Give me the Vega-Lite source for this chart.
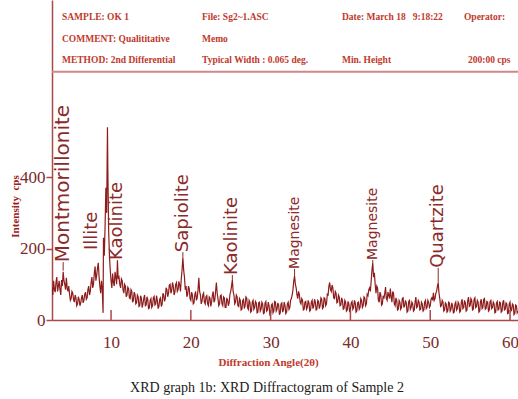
{
"$schema":"https://vega.github.io/schema/vega-lite/v6.json",
"width":466,"height":320,
"autosize":{"type":"none"},
"padding":{"left":52,"top":0,"right":0,"bottom":79},
"background":"white",
"config":{"view":{"stroke":null}},
"title":{"text":"XRD graph 1b: XRD Diffractogram of Sample 2","orient":"bottom","anchor":"middle","font":"Liberation Serif","fontSize":14,"fontWeight":"normal","color":"#1a1a1a","offset":14,"dx":-18},
"datasets":{
"xrd":[
{"t":2.6,"i":90},{"t":2.7,"i":70},{"t":2.8,"i":110},{"t":2.9,"i":85},{"t":3.0,"i":78},{"t":3.1,"i":105},{"t":3.2,"i":120},{"t":3.3,"i":80},{"t":3.4,"i":95},{"t":3.5,"i":110},{"t":3.6,"i":85},{"t":3.7,"i":70},{"t":3.8,"i":112},{"t":3.9,"i":95},{"t":4.0,"i":135},{"t":4.1,"i":110},{"t":4.2,"i":100},{"t":4.3,"i":85},{"t":4.4,"i":118},{"t":4.5,"i":90},{"t":4.6,"i":80},{"t":4.7,"i":95},{"t":4.8,"i":72},{"t":4.9,"i":55},{"t":5.0,"i":60},{"t":5.1,"i":80},{"t":5.2,"i":75},{"t":5.3,"i":58},{"t":5.4,"i":50},{"t":5.5,"i":70},{"t":5.6,"i":62},{"t":5.7,"i":40},{"t":5.8,"i":45},{"t":5.9,"i":65},{"t":6.0,"i":58},{"t":6.1,"i":40},{"t":6.2,"i":48},{"t":6.3,"i":62},{"t":6.4,"i":70},{"t":6.5,"i":48},{"t":6.6,"i":55},{"t":6.7,"i":72},{"t":6.8,"i":78},{"t":6.9,"i":58},{"t":7.0,"i":62},{"t":7.1,"i":85},{"t":7.2,"i":95},{"t":7.3,"i":70},{"t":7.4,"i":80},{"t":7.5,"i":105},{"t":7.6,"i":120},{"t":7.7,"i":90},{"t":7.8,"i":100},{"t":7.9,"i":130},{"t":8.0,"i":150},{"t":8.1,"i":110},{"t":8.2,"i":125},{"t":8.3,"i":145},{"t":8.4,"i":160},{"t":8.5,"i":120},{"t":8.6,"i":95},{"t":8.7,"i":75},{"t":8.8,"i":110},{"t":8.9,"i":85},{"t":9.0,"i":20},{"t":9.05,"i":230},{"t":9.15,"i":180},{"t":9.25,"i":260},{"t":9.35,"i":370},{"t":9.45,"i":300},{"t":9.55,"i":540},{"t":9.6,"i":420},{"t":9.7,"i":250},{"t":9.8,"i":180},{"t":9.9,"i":140},{"t":10.0,"i":110},{"t":10.1,"i":90},{"t":10.2,"i":130},{"t":10.3,"i":105},{"t":10.4,"i":95},{"t":10.5,"i":135},{"t":10.6,"i":120},{"t":10.7,"i":100},{"t":10.8,"i":165},{"t":10.9,"i":115},{"t":11.0,"i":120},{"t":11.1,"i":100},{"t":11.2,"i":90},{"t":11.3,"i":115},{"t":11.4,"i":110},{"t":11.5,"i":85},{"t":11.6,"i":75},{"t":11.7,"i":100},{"t":11.8,"i":95},{"t":11.9,"i":65},{"t":12.0,"i":70},{"t":12.1,"i":92},{"t":12.2,"i":88},{"t":12.3,"i":62},{"t":12.4,"i":60},{"t":12.5,"i":85},{"t":12.6,"i":80},{"t":12.7,"i":50},{"t":12.8,"i":55},{"t":12.9,"i":78},{"t":13.0,"i":72},{"t":13.1,"i":45},{"t":13.2,"i":48},{"t":13.3,"i":70},{"t":13.4,"i":65},{"t":13.5,"i":38},{"t":13.6,"i":40},{"t":13.7,"i":68},{"t":13.8,"i":62},{"t":13.9,"i":35},{"t":14.0,"i":45},{"t":14.1,"i":60},{"t":14.2,"i":70},{"t":14.3,"i":40},{"t":14.4,"i":42},{"t":14.5,"i":65},{"t":14.6,"i":58},{"t":14.7,"i":30},{"t":14.8,"i":35},{"t":14.9,"i":55},{"t":15.0,"i":60},{"t":15.1,"i":35},{"t":15.2,"i":40},{"t":15.3,"i":62},{"t":15.4,"i":66},{"t":15.5,"i":42},{"t":15.6,"i":45},{"t":15.7,"i":68},{"t":15.8,"i":55},{"t":15.9,"i":32},{"t":16.0,"i":38},{"t":16.1,"i":58},{"t":16.2,"i":62},{"t":16.3,"i":38},{"t":16.4,"i":44},{"t":16.5,"i":75},{"t":16.6,"i":70},{"t":16.7,"i":52},{"t":16.8,"i":60},{"t":16.9,"i":90},{"t":17.0,"i":85},{"t":17.1,"i":65},{"t":17.2,"i":75},{"t":17.3,"i":98},{"t":17.4,"i":100},{"t":17.5,"i":75},{"t":17.6,"i":82},{"t":17.7,"i":105},{"t":17.8,"i":95},{"t":17.9,"i":70},{"t":18.0,"i":78},{"t":18.1,"i":100},{"t":18.2,"i":105},{"t":18.3,"i":80},{"t":18.4,"i":85},{"t":18.5,"i":108},{"t":18.6,"i":98},{"t":18.7,"i":80},{"t":18.8,"i":115},{"t":18.9,"i":140},{"t":19.0,"i":175},{"t":19.1,"i":140},{"t":19.2,"i":120},{"t":19.3,"i":85},{"t":19.4,"i":95},{"t":19.5,"i":65},{"t":19.6,"i":72},{"t":19.7,"i":95},{"t":19.8,"i":88},{"t":19.9,"i":60},{"t":20.0,"i":55},{"t":20.1,"i":78},{"t":20.2,"i":70},{"t":20.3,"i":45},{"t":20.4,"i":48},{"t":20.5,"i":72},{"t":20.6,"i":80},{"t":20.7,"i":55},{"t":20.8,"i":62},{"t":20.9,"i":85},{"t":21.0,"i":118},{"t":21.1,"i":80},{"t":21.2,"i":70},{"t":21.3,"i":45},{"t":21.4,"i":52},{"t":21.5,"i":70},{"t":21.6,"i":75},{"t":21.7,"i":50},{"t":21.8,"i":45},{"t":21.9,"i":65},{"t":22.0,"i":68},{"t":22.1,"i":45},{"t":22.2,"i":40},{"t":22.3,"i":65},{"t":22.4,"i":62},{"t":22.5,"i":38},{"t":22.6,"i":50},{"t":22.7,"i":70},{"t":22.8,"i":80},{"t":22.9,"i":50},{"t":23.0,"i":55},{"t":23.1,"i":80},{"t":23.2,"i":105},{"t":23.3,"i":75},{"t":23.4,"i":60},{"t":23.5,"i":40},{"t":23.6,"i":45},{"t":23.7,"i":68},{"t":23.8,"i":70},{"t":23.9,"i":45},{"t":24.0,"i":40},{"t":24.1,"i":65},{"t":24.2,"i":62},{"t":24.3,"i":35},{"t":24.4,"i":35},{"t":24.5,"i":60},{"t":24.6,"i":58},{"t":24.7,"i":40},{"t":24.8,"i":48},{"t":24.9,"i":72},{"t":25.0,"i":80},{"t":25.1,"i":95},{"t":25.2,"i":112},{"t":25.3,"i":80},{"t":25.4,"i":70},{"t":25.5,"i":45},{"t":25.6,"i":50},{"t":25.7,"i":70},{"t":25.8,"i":65},{"t":25.9,"i":40},{"t":26.0,"i":38},{"t":26.1,"i":60},{"t":26.2,"i":55},{"t":26.3,"i":28},{"t":26.4,"i":30},{"t":26.5,"i":55},{"t":26.6,"i":58},{"t":26.7,"i":32},{"t":26.8,"i":40},{"t":26.9,"i":65},{"t":27.0,"i":62},{"t":27.1,"i":35},{"t":27.2,"i":30},{"t":27.3,"i":55},{"t":27.4,"i":50},{"t":27.5,"i":22},{"t":27.6,"i":25},{"t":27.7,"i":50},{"t":27.8,"i":55},{"t":27.9,"i":30},{"t":28.0,"i":35},{"t":28.1,"i":52},{"t":28.2,"i":48},{"t":28.3,"i":20},{"t":28.4,"i":22},{"t":28.5,"i":48},{"t":28.6,"i":50},{"t":28.7,"i":25},{"t":28.8,"i":30},{"t":28.9,"i":50},{"t":29.0,"i":45},{"t":29.1,"i":18},{"t":29.2,"i":20},{"t":29.3,"i":48},{"t":29.4,"i":52},{"t":29.5,"i":25},{"t":29.6,"i":28},{"t":29.7,"i":50},{"t":29.8,"i":40},{"t":29.9,"i":15},{"t":30.0,"i":18},{"t":30.1,"i":42},{"t":30.2,"i":45},{"t":30.3,"i":20},{"t":30.4,"i":25},{"t":30.5,"i":52},{"t":30.6,"i":50},{"t":30.7,"i":25},{"t":30.8,"i":30},{"t":30.9,"i":48},{"t":31.0,"i":42},{"t":31.1,"i":15},{"t":31.2,"i":20},{"t":31.3,"i":45},{"t":31.4,"i":48},{"t":31.5,"i":22},{"t":31.6,"i":28},{"t":31.7,"i":50},{"t":31.8,"i":40},{"t":31.9,"i":18},{"t":32.0,"i":22},{"t":32.1,"i":45},{"t":32.2,"i":50},{"t":32.3,"i":30},{"t":32.4,"i":35},{"t":32.5,"i":55},{"t":32.6,"i":60},{"t":32.7,"i":70},{"t":32.8,"i":85},{"t":32.9,"i":110},{"t":33.0,"i":123},{"t":33.1,"i":100},{"t":33.2,"i":90},{"t":33.3,"i":70},{"t":33.4,"i":60},{"t":33.5,"i":80},{"t":33.6,"i":72},{"t":33.7,"i":50},{"t":33.8,"i":45},{"t":33.9,"i":60},{"t":34.0,"i":55},{"t":34.1,"i":28},{"t":34.2,"i":30},{"t":34.3,"i":50},{"t":34.4,"i":52},{"t":34.5,"i":30},{"t":34.6,"i":35},{"t":34.7,"i":55},{"t":34.8,"i":48},{"t":34.9,"i":25},{"t":35.0,"i":28},{"t":35.1,"i":50},{"t":35.2,"i":55},{"t":35.3,"i":32},{"t":35.4,"i":38},{"t":35.5,"i":58},{"t":35.6,"i":50},{"t":35.7,"i":28},{"t":35.8,"i":30},{"t":35.9,"i":55},{"t":36.0,"i":52},{"t":36.1,"i":32},{"t":36.2,"i":40},{"t":36.3,"i":62},{"t":36.4,"i":58},{"t":36.5,"i":32},{"t":36.6,"i":35},{"t":36.7,"i":62},{"t":36.8,"i":60},{"t":36.9,"i":40},{"t":37.0,"i":45},{"t":37.1,"i":72},{"t":37.2,"i":70},{"t":37.3,"i":95},{"t":37.4,"i":105},{"t":37.5,"i":85},{"t":37.6,"i":80},{"t":37.7,"i":98},{"t":37.8,"i":90},{"t":37.9,"i":62},{"t":38.0,"i":60},{"t":38.1,"i":80},{"t":38.2,"i":75},{"t":38.3,"i":48},{"t":38.4,"i":50},{"t":38.5,"i":70},{"t":38.6,"i":65},{"t":38.7,"i":40},{"t":38.8,"i":42},{"t":38.9,"i":62},{"t":39.0,"i":55},{"t":39.1,"i":30},{"t":39.2,"i":32},{"t":39.3,"i":55},{"t":39.4,"i":50},{"t":39.5,"i":25},{"t":39.6,"i":28},{"t":39.7,"i":52},{"t":39.8,"i":45},{"t":39.9,"i":22},{"t":40.0,"i":30},{"t":40.1,"i":48},{"t":40.2,"i":52},{"t":40.3,"i":30},{"t":40.4,"i":35},{"t":40.5,"i":55},{"t":40.6,"i":48},{"t":40.7,"i":22},{"t":40.8,"i":25},{"t":40.9,"i":48},{"t":41.0,"i":50},{"t":41.1,"i":30},{"t":41.2,"i":35},{"t":41.3,"i":60},{"t":41.4,"i":55},{"t":41.5,"i":35},{"t":41.6,"i":40},{"t":41.7,"i":65},{"t":41.8,"i":62},{"t":41.9,"i":40},{"t":42.0,"i":45},{"t":42.1,"i":72},{"t":42.2,"i":68},{"t":42.3,"i":85},{"t":42.4,"i":90},{"t":42.5,"i":80},{"t":42.6,"i":110},{"t":42.7,"i":140},{"t":42.8,"i":160},{"t":42.9,"i":120},{"t":43.0,"i":132},{"t":43.1,"i":100},{"t":43.2,"i":75},{"t":43.3,"i":95},{"t":43.4,"i":90},{"t":43.5,"i":55},{"t":43.6,"i":50},{"t":43.7,"i":78},{"t":43.8,"i":72},{"t":43.9,"i":42},{"t":44.0,"i":45},{"t":44.1,"i":68},{"t":44.2,"i":60},{"t":44.3,"i":75},{"t":44.4,"i":92},{"t":44.5,"i":60},{"t":44.6,"i":55},{"t":44.7,"i":78},{"t":44.8,"i":70},{"t":44.9,"i":60},{"t":45.0,"i":88},{"t":45.1,"i":65},{"t":45.2,"i":50},{"t":45.3,"i":80},{"t":45.4,"i":75},{"t":45.5,"i":45},{"t":45.6,"i":40},{"t":45.7,"i":62},{"t":45.8,"i":55},{"t":45.9,"i":28},{"t":46.0,"i":30},{"t":46.1,"i":55},{"t":46.2,"i":50},{"t":46.3,"i":30},{"t":46.4,"i":35},{"t":46.5,"i":60},{"t":46.6,"i":62},{"t":46.7,"i":35},{"t":46.8,"i":40},{"t":46.9,"i":55},{"t":47.0,"i":48},{"t":47.1,"i":22},{"t":47.2,"i":25},{"t":47.3,"i":52},{"t":47.4,"i":55},{"t":47.5,"i":30},{"t":47.6,"i":35},{"t":47.7,"i":50},{"t":47.8,"i":45},{"t":47.9,"i":25},{"t":48.0,"i":28},{"t":48.1,"i":50},{"t":48.2,"i":64},{"t":48.3,"i":35},{"t":48.4,"i":38},{"t":48.5,"i":55},{"t":48.6,"i":50},{"t":48.7,"i":28},{"t":48.8,"i":30},{"t":48.9,"i":50},{"t":49.0,"i":45},{"t":49.1,"i":25},{"t":49.2,"i":28},{"t":49.3,"i":50},{"t":49.4,"i":55},{"t":49.5,"i":32},{"t":49.6,"i":35},{"t":49.7,"i":55},{"t":49.8,"i":50},{"t":49.9,"i":35},{"t":50.0,"i":40},{"t":50.1,"i":58},{"t":50.2,"i":62},{"t":50.3,"i":55},{"t":50.4,"i":76},{"t":50.5,"i":55},{"t":50.6,"i":60},{"t":50.7,"i":75},{"t":50.8,"i":80},{"t":50.9,"i":95},{"t":51.0,"i":104},{"t":51.1,"i":75},{"t":51.2,"i":60},{"t":51.3,"i":38},{"t":51.4,"i":40},{"t":51.5,"i":55},{"t":51.6,"i":50},{"t":51.7,"i":25},{"t":51.8,"i":28},{"t":51.9,"i":48},{"t":52.0,"i":45},{"t":52.1,"i":22},{"t":52.2,"i":25},{"t":52.3,"i":50},{"t":52.4,"i":48},{"t":52.5,"i":25},{"t":52.6,"i":30},{"t":52.7,"i":48},{"t":52.8,"i":40},{"t":52.9,"i":20},{"t":53.0,"i":22},{"t":53.1,"i":45},{"t":53.2,"i":50},{"t":53.3,"i":28},{"t":53.4,"i":32},{"t":53.5,"i":50},{"t":53.6,"i":45},{"t":53.7,"i":22},{"t":53.8,"i":25},{"t":53.9,"i":50},{"t":54.0,"i":58},{"t":54.1,"i":32},{"t":54.2,"i":35},{"t":54.3,"i":55},{"t":54.4,"i":48},{"t":54.5,"i":25},{"t":54.6,"i":28},{"t":54.7,"i":55},{"t":54.8,"i":64},{"t":54.9,"i":38},{"t":55.0,"i":40},{"t":55.1,"i":60},{"t":55.2,"i":55},{"t":55.3,"i":28},{"t":55.4,"i":30},{"t":55.5,"i":58},{"t":55.6,"i":62},{"t":55.7,"i":35},{"t":55.8,"i":38},{"t":55.9,"i":55},{"t":56.0,"i":50},{"t":56.1,"i":22},{"t":56.2,"i":25},{"t":56.3,"i":52},{"t":56.4,"i":58},{"t":56.5,"i":32},{"t":56.6,"i":35},{"t":56.7,"i":58},{"t":56.8,"i":60},{"t":56.9,"i":30},{"t":57.0,"i":32},{"t":57.1,"i":52},{"t":57.2,"i":50},{"t":57.3,"i":25},{"t":57.4,"i":28},{"t":57.5,"i":52},{"t":57.6,"i":55},{"t":57.7,"i":32},{"t":57.8,"i":35},{"t":57.9,"i":50},{"t":58.0,"i":45},{"t":58.1,"i":20},{"t":58.2,"i":22},{"t":58.3,"i":48},{"t":58.4,"i":52},{"t":58.5,"i":28},{"t":58.6,"i":30},{"t":58.7,"i":50},{"t":58.8,"i":48},{"t":58.9,"i":22},{"t":59.0,"i":25},{"t":59.1,"i":50},{"t":59.2,"i":55},{"t":59.3,"i":28},{"t":59.4,"i":30},{"t":59.5,"i":48},{"t":59.6,"i":45},{"t":59.7,"i":18},{"t":59.8,"i":20},{"t":59.9,"i":45},{"t":60.0,"i":50},{"t":60.1,"i":25},{"t":60.2,"i":28},{"t":60.3,"i":45},{"t":60.4,"i":42},{"t":60.5,"i":15},{"t":60.6,"i":18},{"t":60.7,"i":42},{"t":60.8,"i":40},{"t":60.9,"i":20},{"t":61.0,"i":25}
],
"minerals":[
{"m":"Montmorillonite","t":4.0,"p":138,"i":162},
{"m":"Illite","t":7.6,"p":196,"i":196},
{"m":"Kaolinite","t":10.8,"p":165,"i":168},
{"m":"Sapiolite","t":19.0,"p":175,"i":190},
{"m":"Kaolinite","t":25.2,"p":112,"i":126},
{"m":"Magnesite","t":33.0,"p":123,"i":143},
{"m":"Magnesite","t":42.8,"p":160,"i":168},
{"m":"Quartzite","t":51.0,"p":104,"i":146}
],
"header":[
{"h":"SAMPLE: OK 1","t":3.85,"i":849},
{"h":"File: Sg2~1.ASC","t":21.4,"i":849},
{"h":"Date: March 18\u00a0\u00a0 9:18:22","t":38.94,"i":849},
{"h":"Operator:","t":54.23,"i":849},
{"h":"COMMENT: Qualititative","t":3.85,"i":787},
{"h":"Memo","t":21.4,"i":787},
{"h":"METHOD: 2nd Differential","t":3.85,"i":728},
{"h":"Typical Width : 0.065 deg.","t":21.4,"i":728},
{"h":"Min. Height","t":38.94,"i":728},
{"h":"200:00 cps","t":54.73,"i":728}
],
"ticks":[{"t":10,"i":0,"p":28},{"t":20,"i":0,"p":28},{"t":30,"i":0,"p":28},{"t":40,"i":0,"p":28},{"t":50,"i":0,"p":28},{"t":60,"i":0,"p":28}],
"sep":[{"i":695}]
},
"layer":[
{"data":{"name":"xrd"},"mark":{"type":"line","color":"#8e1c1c","strokeWidth":1.2,"clip":true},
 "encoding":{
 "x":{"field":"t","type":"quantitative","scale":{"domain":[2.6,61],"nice":false,"zero":false},
  "axis":{"values":[10,20,30,40,50,60],"ticks":false,"grid":false,"domainColor":"#a84a4a","domainWidth":1.5,
  "labelFont":"Liberation Sans Narrow","labelFontSize":17,"labelColor":"#7a2a2a","labelPadding":14,
  "title":"Diffraction Angle(2θ)","titleFont":"Liberation Serif","titleFontSize":11,"titleFontWeight":"bold","titleColor":"#c0392b",
  "titleX":216,"titleY":42,"titleBaseline":"middle","titleAlign":"center"}},
 "y":{"field":"i","type":"quantitative","scale":{"domain":[0,896],"nice":false},
  "axis":{"values":[0,200,400],"grid":false,"tickSize":6,"tickColor":"#a84a4a","tickWidth":1.5,"domainColor":"#a84a4a","domainWidth":1.5,
  "labelFont":"Liberation Sans Narrow","labelFontSize":17,"labelColor":"#7a2a2a","labelPadding":1,
  "title":"Intensity\u00a0 cps","titleFont":"Liberation Serif","titleFontSize":11,"titleFontWeight":"bold","titleColor":"#9b2020",
  "titleX":-37,"titleY":206,"titleAngle":270,"titleBaseline":"middle","titleAlign":"center"}}}},
{"data":{"name":"sep"},"mark":{"type":"rule","color":"#d38686","strokeWidth":2},
 "encoding":{"y":{"field":"i","type":"quantitative"}}},
{"data":{"name":"ticks"},"mark":{"type":"rule","color":"#a84a4a","strokeWidth":1.5},
 "encoding":{"x":{"field":"t","type":"quantitative"},"y":{"field":"i","type":"quantitative"},"y2":{"field":"p"}}},
{"data":{"name":"minerals"},"mark":{"type":"rule","color":"#8b2a2a","strokeWidth":1},
 "encoding":{"x":{"field":"t","type":"quantitative"},"y":{"field":"i","type":"quantitative"},"y2":{"field":"p"}}},
{"data":{"name":"minerals"},"mark":{"type":"text","angle":270,"align":"left","baseline":"middle","font":"DejaVu Sans","color":"#8b2a2a"},
 "encoding":{"x":{"field":"t","type":"quantitative"},"y":{"field":"i","type":"quantitative"},
 "text":{"field":"m"},
 "size":{"condition":[{"test":"datum.m==='Montmorillonite'","value":20},{"test":"datum.m==='Magnesite'","value":14}],"value":18}}},
{"data":{"name":"header"},"mark":{"type":"text","align":"left","baseline":"middle","font":"Liberation Serif","fontWeight":"bold","fontSize":9.5,"color":"#c0392b"},
 "encoding":{"x":{"field":"t","type":"quantitative"},"y":{"field":"i","type":"quantitative"},
 "text":{"field":"h"}}}
]
}
